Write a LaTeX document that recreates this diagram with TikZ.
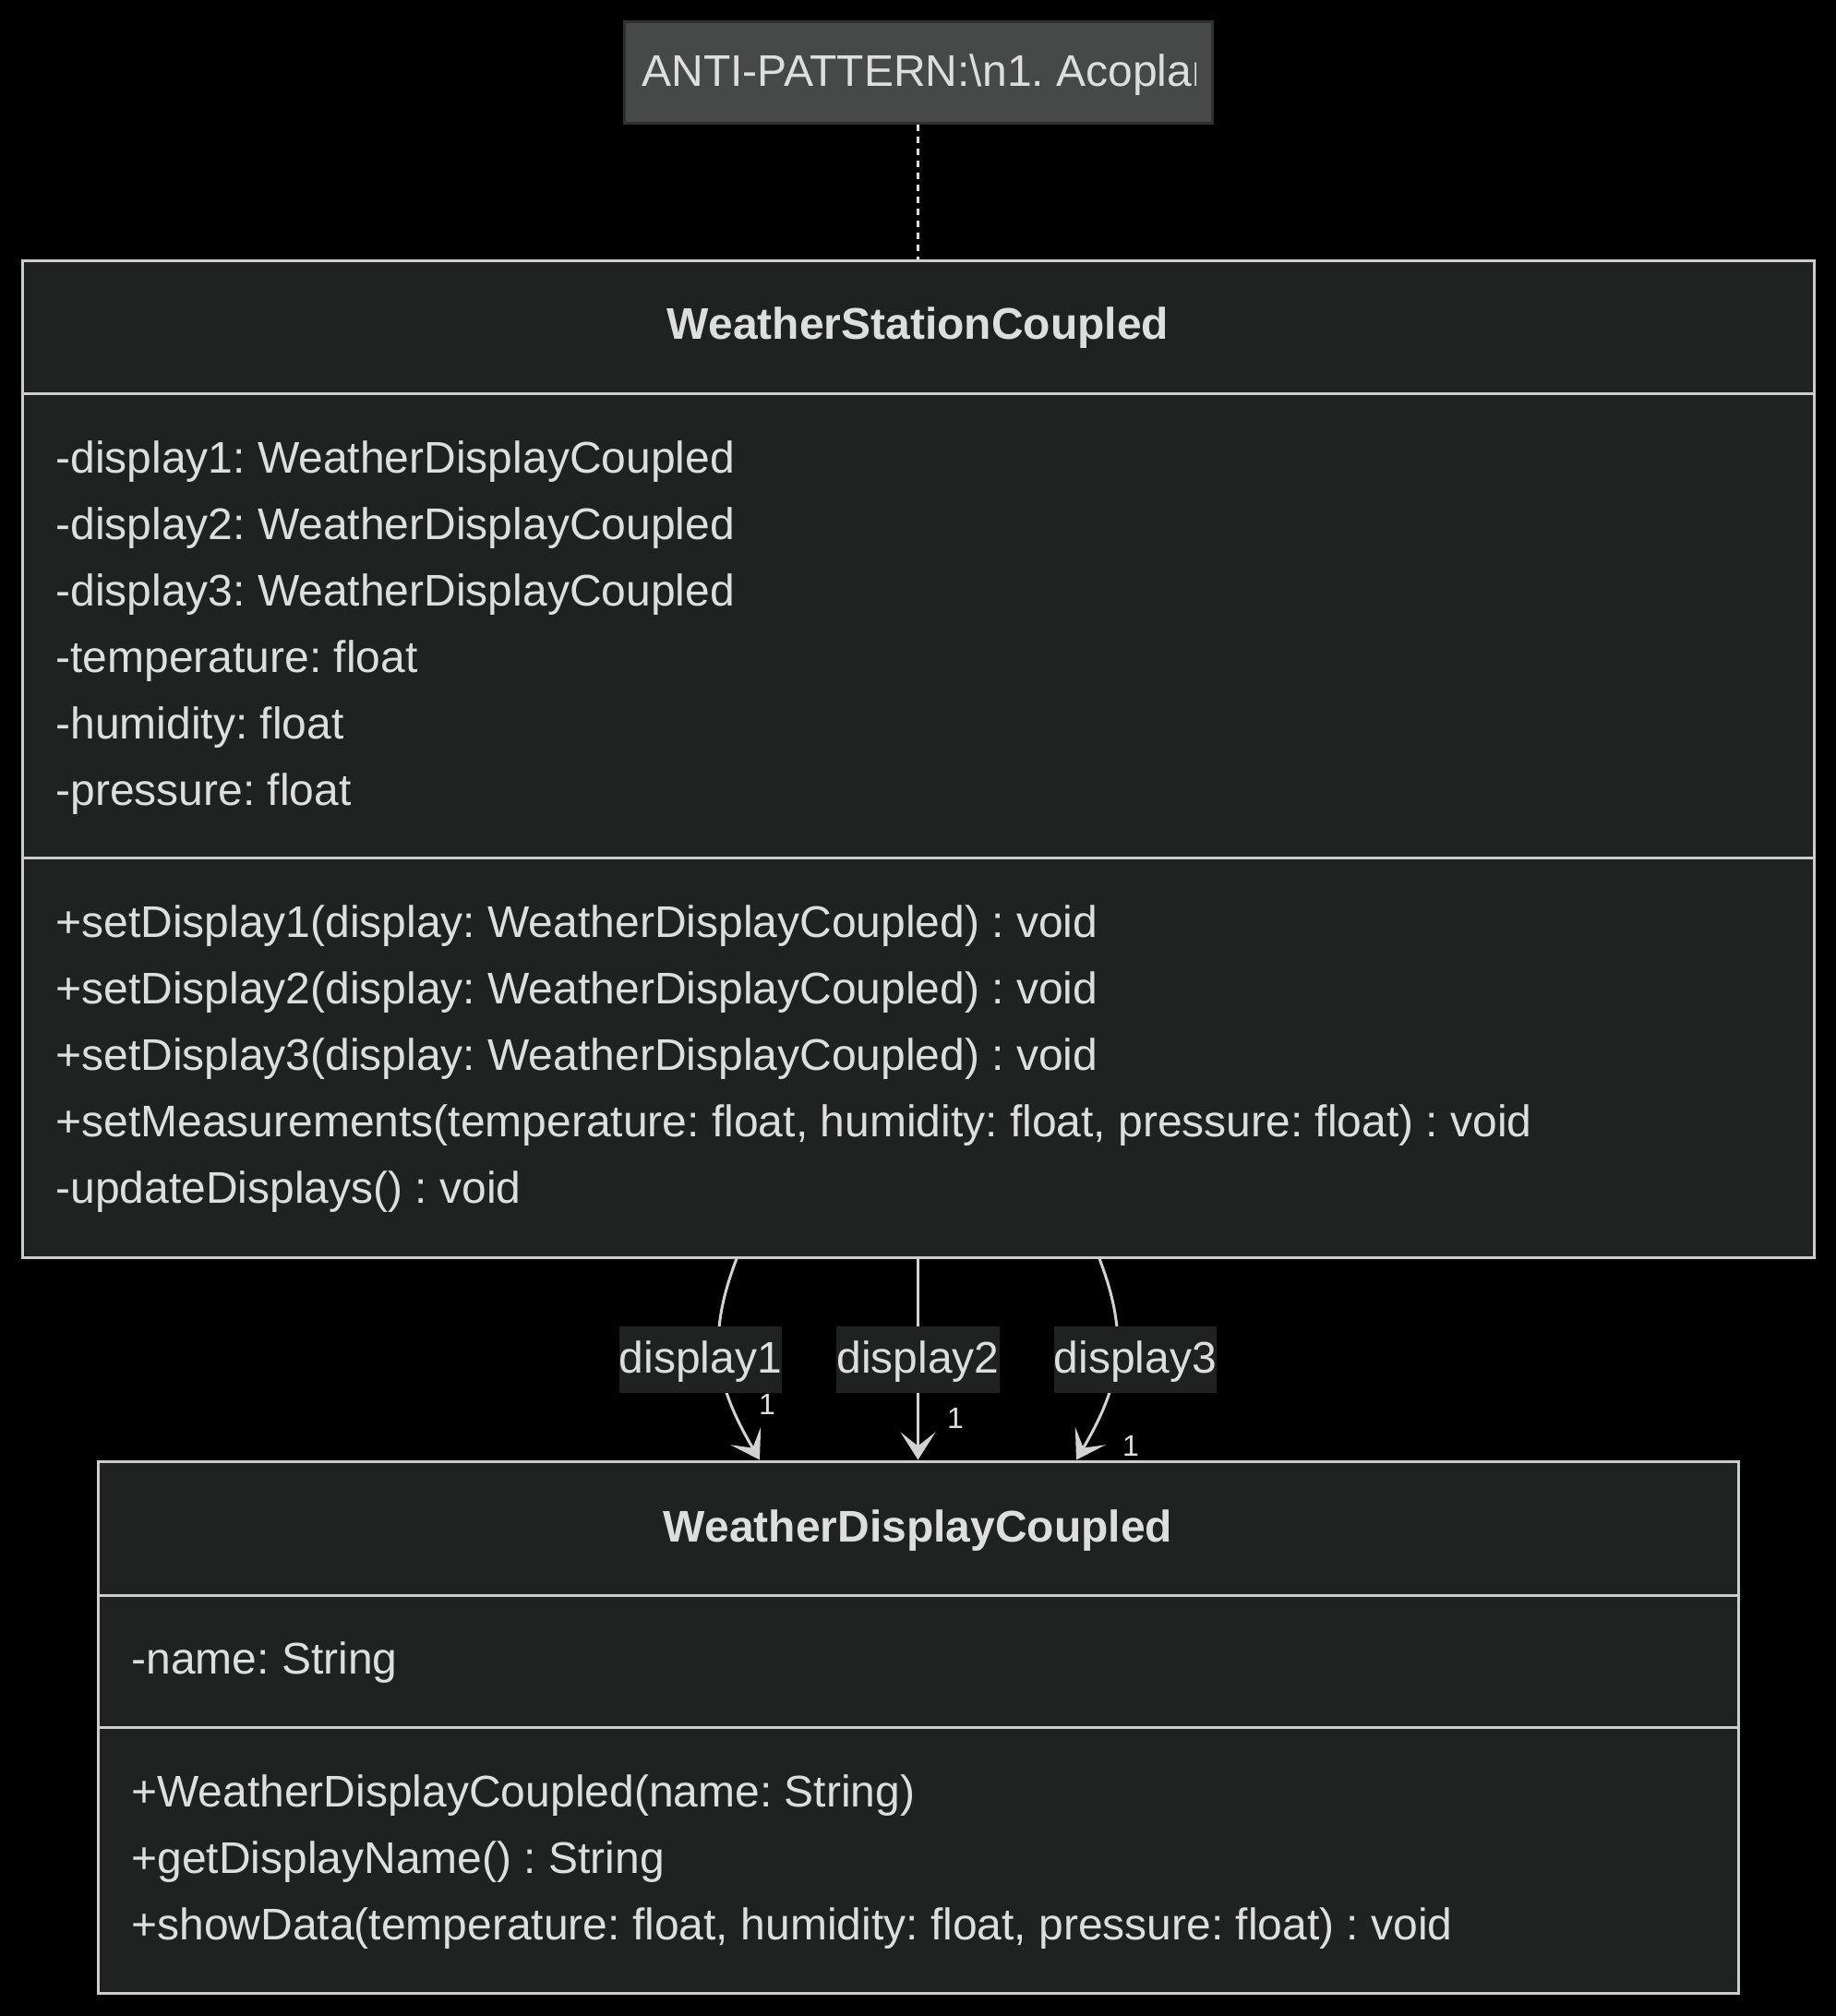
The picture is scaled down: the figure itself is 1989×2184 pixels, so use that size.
\documentclass[tikz,border=0pt]{standalone}
\usepackage{fontspec}
\setmainfont{Liberation Sans}
\usetikzlibrary{arrows.meta,calc}
\definecolor{boxfill}{HTML}{202221}
\definecolor{boxline}{HTML}{CCCCCC}
\definecolor{txt}{HTML}{DEDEDE}
\definecolor{notefill}{HTML}{474948}
\definecolor{noteline}{HTML}{2F2F2F}
\definecolor{edgec}{HTML}{D2D2D2}
\frenchspacing
\begin{document}
\begin{tikzpicture}[x=0.5pt,y=-0.5pt,
  classbox/.style={draw=boxline, fill=boxfill, line width=1.5pt, inner sep=0pt, rectangle},
  notebox/.style={draw=noteline, fill=notefill, line width=1.5pt, inner sep=0pt, rectangle},
  sepline/.style={draw=boxline, line width=1.5pt},
  member/.style={text=txt, font=\fontsize{24}{28}\selectfont, inner sep=0pt, anchor=base west},
  classtitle/.style={text=txt, font=\fontsize{24}{28}\selectfont\bfseries, inner sep=0pt, anchor=base},
  edgelabel/.style={fill=boxfill, text=txt, font=\fontsize{24}{28}\selectfont, inner sep=0pt,
    text height=25pt, text depth=11pt, anchor=base},
  multlabel/.style={text=txt, font=\fontsize{16}{18}\selectfont, inner sep=0pt, anchor=base},
  assoc/.style={draw=edgec, line width=1.5pt,
    -{Stealth[length=15pt, width=19pt, inset=7.5pt, fill=edgec]}},
  notelink/.style={draw=txt, line width=1.5pt, dash pattern=on 3.5pt off 3pt}
]
% canvas
\fill[black] (0,0) rectangle (1989,2184);
\useasboundingbox (0,0) rectangle (1989,2184);

% note
\node[notebox, minimum width=318.5pt, minimum height=55pt] (note) at (994.5,78) {};
\begin{scope}
  \clip (676,23) rectangle (1295,133);
  \node[text=txt, font=\fontsize{24}{28}\selectfont, inner sep=0pt, anchor=base west]
    (notetext) at (695,93) {ANTI-PATTERN:\textbackslash n1. Acoplam};
\end{scope}

% class WeatherStationCoupled
\node[classbox, minimum width=970.5pt, minimum height=540pt] (station) at (994.5,822) {};
\draw[sepline] (24,426) -- (1965,426);
\draw[sepline] (24,929) -- (1965,929);
\node[classtitle] (stitle) at (994.5,367) {WeatherStationCoupled};
\node[member] (sa1) at (60,512) {-display1: WeatherDisplayCoupled};
\node[member] (sa2) at (60,584) {-display2: WeatherDisplayCoupled};
\node[member] (sa3) at (60,656) {-display3: WeatherDisplayCoupled};
\node[member] (sa4) at (60,728) {-temperature: float};
\node[member] (sa5) at (60,800) {-humidity: float};
\node[member] (sa6) at (60,872) {-pressure: float};
\node[member] (sm1) at (60,1015) {+setDisplay1(display: WeatherDisplayCoupled) : void};
\node[member] (sm2) at (60,1087) {+setDisplay2(display: WeatherDisplayCoupled) : void};
\node[member] (sm3) at (60,1159) {+setDisplay3(display: WeatherDisplayCoupled) : void};
\node[member] (sm4) at (60,1231) {+setMeasurements(temperature: float, humidity: float, pressure: float) : void};
\node[member] (sm5) at (60,1303) {-updateDisplays() : void};

% class WeatherDisplayCoupled
\node[classbox, minimum width=888.5pt, minimum height=288pt] (display) at (994.5,1871) {};
\draw[sepline] (106,1728) -- (1883,1728);
\draw[sepline] (106,1871) -- (1883,1871);
\node[classtitle] (dtitle) at (994.5,1670) {WeatherDisplayCoupled};
\node[member] (da1) at (142,1813) {-name: String};
\node[member] (dm1) at (142,1957) {+WeatherDisplayCoupled(name: String)};
\node[member] (dm2) at (142,2029) {+getDisplayName() : String};
\node[member] (dm3) at (142,2101) {+showData(temperature: float, humidity: float, pressure: float) : void};

% note link
\draw[notelink] (note.south) -- (station.north);

% associations
\draw[assoc] ($(station.south)+(-196.5,0)$) .. controls (765,1450) and (775,1500) .. ($(display.north)+(-171.5,0)$);
\draw[assoc] (station.south) -- (display.north);
\draw[assoc] ($(station.south)+(196.5,0)$) .. controls (1224,1450) and (1214,1500) .. ($(display.north)+(171.5,0)$);

% association labels
\node[edgelabel] (l1) at (759,1487) {display1};
\node[edgelabel] (l2) at (994.5,1487) {display2};
\node[edgelabel] (l3) at (1230,1487) {display3};
\node[multlabel] (m1) at (831,1532) {1};
\node[multlabel] (m2) at (1035,1547) {1};
\node[multlabel] (m3) at (1225,1577) {1};
\end{tikzpicture}
\end{document}
